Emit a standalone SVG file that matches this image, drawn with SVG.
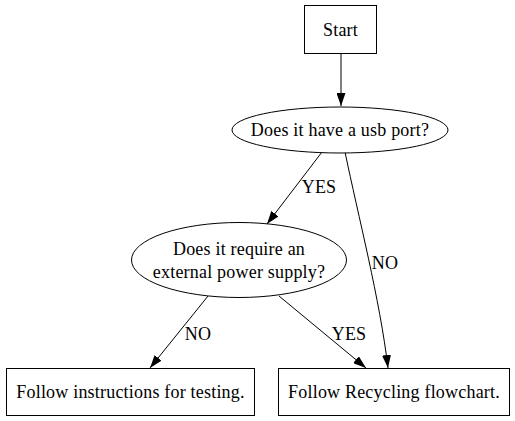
<svg xmlns="http://www.w3.org/2000/svg" width="515" height="421" viewBox="0 0 515 421">
<style>
.n{fill:#fff;stroke:#000;stroke-width:1}
.t{font-family:"Liberation Serif","Times New Roman",serif;font-size:18px;letter-spacing:0.2px;fill:#000;text-anchor:middle}
.e{fill:none;stroke:#000;stroke-width:1}
</style>
<defs>
<marker id="a" markerUnits="userSpaceOnUse" markerWidth="13" markerHeight="9" refX="13" refY="4.5" orient="auto" viewBox="0 0 13 9">
<path d="M0,0 L13,4.5 L0,9 Z" fill="#000"/>
</marker>
</defs>
<rect width="515" height="421" fill="#fff"/>
<g id="connectors">
<path class="e" d="M341,53 L341,106" marker-end="url(#a)"/>
<path class="e" d="M322,152 L267,224" marker-end="url(#a)"/>
<text class="t" x="319" y="193">YES</text>
<path class="e" d="M345,152 C358,215 380,300 388,368" marker-end="url(#a)"/>
<text class="t" x="385" y="269">NO</text>
<path class="e" d="M208,296 L150,368" marker-end="url(#a)"/>
<text class="t" x="198" y="340">NO</text>
<path class="e" d="M279,296 L366,368" marker-end="url(#a)"/>
<text class="t" x="349" y="340">YES</text>
</g>
<g id="start">
<rect class="n" x="304.5" y="5.5" width="72" height="48"/>
<text class="t" x="340.5" y="36">Start</text>
</g>
<g id="usb">
<ellipse class="n" cx="340" cy="130" rx="108" ry="23"/>
<text class="t" x="340" y="136">Does it have a usb port?</text>
</g>
<g id="power">
<ellipse class="n" cx="239" cy="260" rx="107.5" ry="37.5"/>
<text class="t" x="239" y="255">Does it require an</text>
<text class="t" x="239" y="278">external power supply?</text>
</g>
<g id="testing">
<rect class="n" x="6.5" y="368.5" width="248" height="47"/>
<text class="t" x="130.5" y="398">Follow instructions for testing.</text>
</g>
<g id="recycling">
<rect class="n" x="278.5" y="368.5" width="231" height="47"/>
<text class="t" x="394" y="398">Follow Recycling flowchart.</text>
</g>
</svg>
